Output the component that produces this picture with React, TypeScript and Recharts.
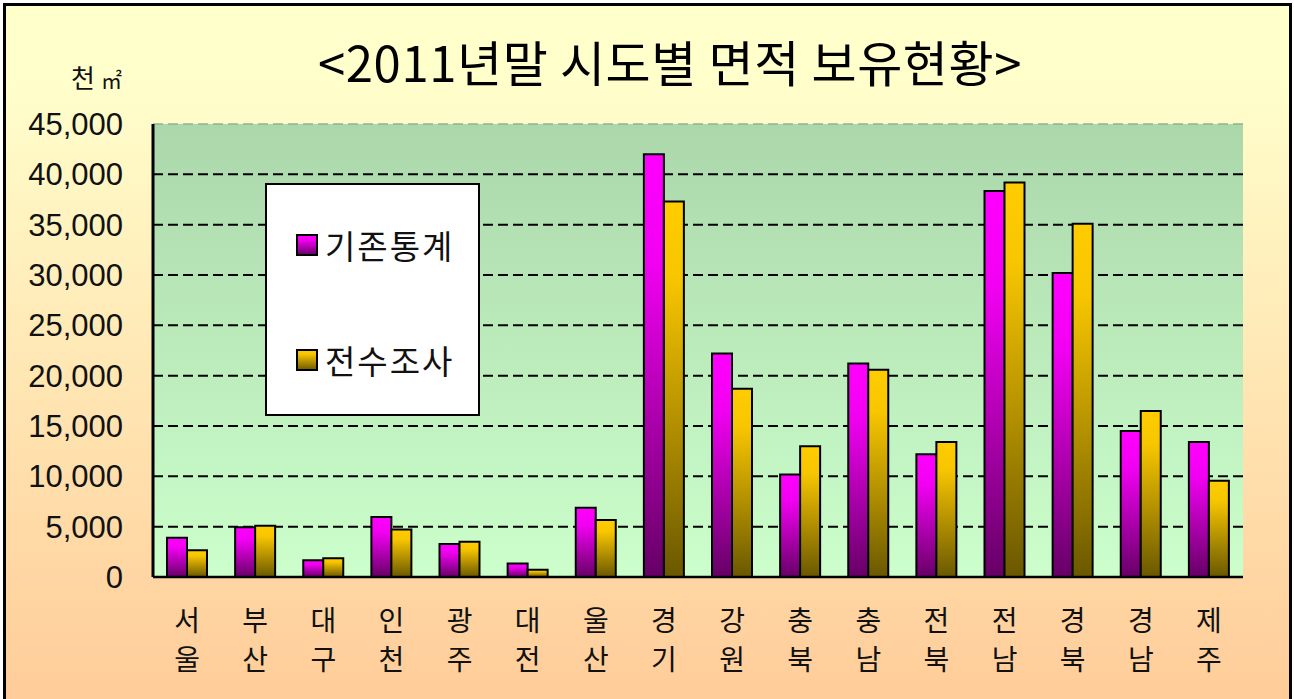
import { BarChart, Bar, XAxis, YAxis, CartesianGrid, Legend, ReferenceLine } from "recharts";

const regions = ["서울", "부산", "대구", "인천", "광주", "대전", "울산", "경기", "강원", "충북", "충남", "전북", "전남", "경북", "경남", "제주"];
const existingStats = [3900, 4930, 1660, 5950, 3290, 1330, 6880, 42000, 22200, 10170, 21200, 12200, 38350, 30200, 14500, 13400];
const fullSurvey = [2660, 5080, 1860, 4720, 3490, 730, 5650, 37300, 18700, 13000, 20600, 13400, 39200, 35100, 16500, 9550];
const yTicks = [0, 5000, 10000, 15000, 20000, 25000, 30000, 35000, 40000, 45000];

const data = regions.map((name, i) => ({ name, existing: existingStats[i], survey: fullSurvey[i] }));

const KR = '"Noto Sans CJK KR", sans-serif';
const NUM = '"Liberation Sans", Arial, sans-serif';

const RegionTick = ({ x, y, payload }: any) => {
  const chars = [...String(payload.value)];
  return (
    <g>
      <text x={x} y={y + 46} textAnchor="middle" fontSize={28} fill="#111" fontFamily={KR}>
        {chars[0]}
      </text>
      <text x={x} y={y + 85} textAnchor="middle" fontSize={28} fill="#111" fontFamily={KR}>
        {chars[1]}
      </text>
    </g>
  );
};

const LegendBox = ({ payload }: any) => (
  <div
    style={{
      width: 215,
      height: 233,
      boxSizing: "border-box",
      border: "2px solid #000",
      background: "#fff",
      position: "relative",
    }}
  >
    {(payload || []).map((item: any, i: number) => (
      <div
        key={item.value}
        style={{
          position: "absolute",
          left: 29,
          top: 40 + i * 115,
          height: 40,
          display: "flex",
          alignItems: "center",
          fontFamily: KR,
          fontSize: 33,
          letterSpacing: 2,
          color: "#111",
        }}
      >
        <svg width={22} height={22} style={{ marginRight: 7 }}>
          <rect x={1} y={1} width={20} height={20} fill={item.payload?.fill ?? item.color} stroke="#000" strokeWidth={2} />
        </svg>
        {item.value}
      </div>
    ))}
  </div>
);

export default function App() {
  return (
    <div style={{ position: "absolute", left: 0, top: 0, width: 1294, height: 699, overflow: "hidden", background: "#fff" }}>
      <div
        style={{
          position: "absolute",
          left: 3,
          top: 3,
          width: 1289,
          height: 720,
          boxSizing: "border-box",
          border: "3px solid #000",
          background: "linear-gradient(to bottom, #FFFFCC 0px, #FFFFCC 70px, #FFCC99 696px)",
        }}
      />
      <div
        style={{
          position: "absolute",
          left: 670,
          top: 36,
          transform: "translateX(-50%)",
          whiteSpace: "nowrap",
          fontFamily: KR,
          fontSize: 49,
          letterSpacing: 0.6,
          lineHeight: "49px",
          color: "#000",
        }}
      >
        &lt;2011년말 시도별 면적 보유현황&gt;
      </div>
      <div
        style={{
          position: "absolute",
          left: 71,
          top: 62,
          whiteSpace: "nowrap",
          fontFamily: KR,
          fontSize: 26,
          lineHeight: "30px",
          color: "#111",
        }}
      >
        천<span style={{ fontSize: 21, marginLeft: 6 }}>㎡</span>
      </div>
      <div style={{ position: "absolute", left: 0, top: 0 }}>
        <BarChart
          width={1294}
          height={699}
          data={data}
          margin={{ top: 124, right: 51, left: 0, bottom: 0 }}
          barSize={20}
          barGap={0}
        >
          <defs>
            <linearGradient id="plotBg" x1="0" y1="0" x2="0" y2="1">
              <stop offset="0%" stopColor="#ABD7AB" />
              <stop offset="100%" stopColor="#CCFFCC" />
            </linearGradient>
            <linearGradient id="magGrad" x1="0" y1="0" x2="0" y2="1">
              <stop offset="0%" stopColor="#FF00FF" />
              <stop offset="25%" stopColor="#F200F2" />
              <stop offset="100%" stopColor="#660066" />
            </linearGradient>
            <linearGradient id="goldGrad" x1="0" y1="0" x2="0" y2="1">
              <stop offset="0%" stopColor="#FFCC00" />
              <stop offset="20%" stopColor="#F8C600" />
              <stop offset="100%" stopColor="#6A5800" />
            </linearGradient>
          </defs>
          <CartesianGrid
            fill="url(#plotBg)"
            vertical={false}
            horizontalValues={yTicks.filter((v) => v > 0 && v < 45000)}
            stroke="#000"
            strokeWidth={2}
            strokeDasharray="10 5"
          />
          <ReferenceLine y={45000} stroke="#8FB58F" strokeWidth={1.5} strokeDasharray="10 5" />
          <XAxis
            dataKey="name"
            height={122}
            tickLine={false}
            axisLine={{ stroke: "#000", strokeWidth: 2.5 }}
            tick={<RegionTick />}
            interval={0}
          />
          <YAxis
            width={153}
            domain={[0, 45000]}
            ticks={yTicks}
            interval={0}
            tickLine={false}
            tickMargin={24}
            axisLine={{ stroke: "#000", strokeWidth: 3 }}
            tickFormatter={(v: number) => v.toLocaleString("en-US")}
            tick={{ fontSize: 31, fill: "#111", fontFamily: NUM }}
          />
          <Legend
            layout="vertical"
            align="center"
            verticalAlign="middle"
            content={<LegendBox />}
            wrapperStyle={{ left: 265, top: 183, width: 215, height: 233 }}
          />
          <Bar dataKey="existing" name="기존통계" fill="url(#magGrad)" stroke="#000" strokeWidth={2} isAnimationActive={false} />
          <Bar dataKey="survey" name="전수조사" fill="url(#goldGrad)" stroke="#000" strokeWidth={2} isAnimationActive={false} />
        </BarChart>
      </div>
    </div>
  );
}
